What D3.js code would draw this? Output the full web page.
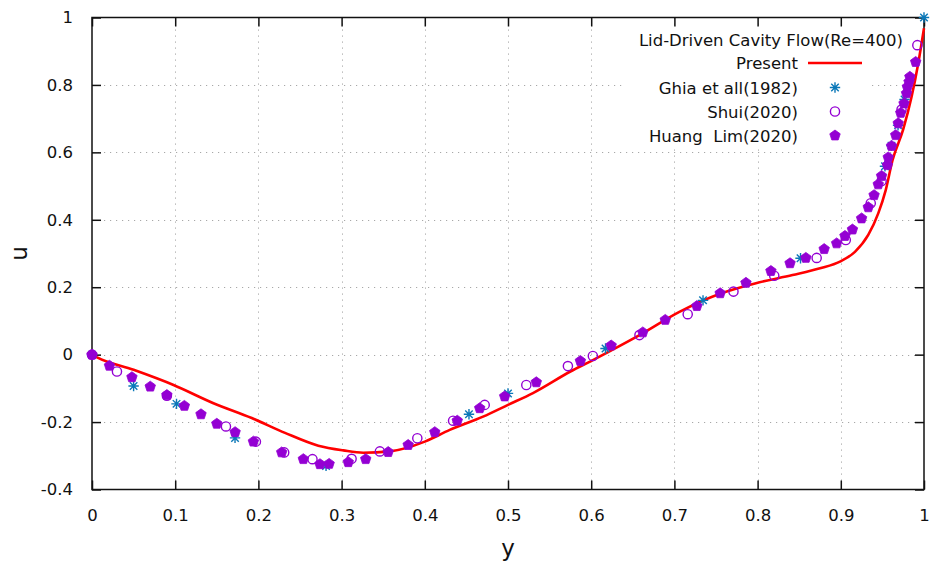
<!DOCTYPE html>
<html>
<head>
<meta charset="utf-8">
<script src="https://cdnjs.cloudflare.com/ajax/libs/d3/7.8.5/d3.min.js"></script>
<style>
  body { margin: 0; background: #fff; }
  text { font-family: "DejaVu Sans", Verdana, sans-serif; fill: #111; white-space: pre; }
</style>
</head>
<body>
<svg id="chart" width="934" height="564"></svg>
<script>
// Present (red line)
var presentY = [0, 0.006, 0.05, 0.098, 0.146, 0.192, 0.232, 0.272, 0.302, 0.326, 0.358, 0.4, 0.43, 0.47, 0.5, 0.53, 0.575, 0.602, 0.658, 0.706, 0.754, 0.798, 0.842, 0.875, 0.899, 0.917, 0.933, 0.945, 0.954, 0.962, 0.975, 0.985, 0.993, 1.0];
var presentU = [0, -0.008, -0.045, -0.09, -0.144, -0.188, -0.232, -0.27, -0.284, -0.291, -0.287, -0.258, -0.223, -0.184, -0.149, -0.114, -0.05, -0.016, 0.058, 0.127, 0.18, 0.212, 0.236, 0.256, 0.276, 0.305, 0.355, 0.419, 0.488, 0.575, 0.668, 0.764, 0.863, 0.968];

// Ghia et all (1982)
var ghiaY = [0, 0.05, 0.1016, 0.1719, 0.2813, 0.4531, 0.5, 0.6172, 0.7344, 0.8516, 0.9531, 0.9609, 0.9688, 0.9766, 1.0];
var ghiaU = [0, -0.093, -0.146, -0.247, -0.33, -0.177, -0.115, 0.018, 0.161, 0.286, 0.559, 0.62, 0.68, 0.757, 1.0];

// Shui (2020)
var shuiY = [0, 0.03, 0.09, 0.161, 0.197, 0.231, 0.265, 0.312, 0.346, 0.391, 0.434, 0.472, 0.522, 0.572, 0.602, 0.658, 0.716, 0.771, 0.82, 0.871, 0.906, 0.936, 0.949, 0.973, 0.992];
var shuiU = [0, -0.05, -0.122, -0.213, -0.258, -0.29, -0.31, -0.309, -0.287, -0.248, -0.196, -0.149, -0.09, -0.034, -0.004, 0.058, 0.12, 0.187, 0.234, 0.287, 0.34, 0.449, 0.515, 0.727, 0.918];

// Huang Lim (2020)
var huangY = [0, 0.021, 0.048, 0.07, 0.09, 0.111, 0.131, 0.15, 0.172, 0.194, 0.228, 0.254, 0.274, 0.285, 0.308, 0.329, 0.356, 0.38, 0.412, 0.439, 0.466, 0.496, 0.534, 0.587, 0.624, 0.662, 0.689, 0.727, 0.755, 0.786, 0.816, 0.839, 0.858, 0.88, 0.895, 0.905, 0.914, 0.925, 0.933, 0.94, 0.945, 0.949, 0.956, 0.957, 0.961, 0.966, 0.969, 0.972, 0.976, 0.979, 0.98, 0.982, 0.983, 0.99];
var huangU = [0, -0.033, -0.067, -0.095, -0.12, -0.152, -0.177, -0.205, -0.23, -0.258, -0.29, -0.31, -0.325, -0.324, -0.319, -0.31, -0.289, -0.268, -0.23, -0.196, -0.159, -0.124, -0.082, -0.019, 0.027, 0.066, 0.103, 0.144, 0.182, 0.213, 0.248, 0.271, 0.287, 0.313, 0.33, 0.352, 0.371, 0.404, 0.437, 0.473, 0.505, 0.53, 0.562, 0.585, 0.619, 0.651, 0.686, 0.717, 0.745, 0.775, 0.794, 0.809, 0.824, 0.868];

var xTicks = [0, 0.1, 0.2, 0.3, 0.4, 0.5, 0.6, 0.7, 0.8, 0.9, 1];
var yTicks = [-0.4, -0.2, 0, 0.2, 0.4, 0.6, 0.8, 1];

var legendTitle = "Lid-Driven Cavity Flow(Re=400)";
var legendNames = ["Present", "Ghia et all(1982)", "Shui(2020)", "Huang  Lim(2020)"];

var RED = "#ff0000", BLUE = "#0b78b8", PURPLE = "#9400d3";

var svg = d3.select("#chart"),
  M = { left: 92, right: 924, top: 17.5, bottom: 489.5 };

var x = d3.scaleLinear().domain([0, 1]).range([M.left, M.right]);
var y = d3.scaleLinear().domain([-0.4, 1]).range([M.bottom, M.top]);

function zip(a, b) { return a.map(function (v, i) { return [v, b[i]]; }); }
function plain(d) { return String(d); }   // hyphen minus like gnuplot

// grid
var grid = svg.append("g").attr("stroke", "#a8a8a8").attr("stroke-width", 1).attr("stroke-dasharray", "1.2,4.8");
grid.selectAll(".gx").data(xTicks.slice(1, -1)).enter().append("line")
  .attr("x1", function (d) { return Math.round(x(d)) + 0.5; })
  .attr("x2", function (d) { return Math.round(x(d)) + 0.5; })
  .attr("y1", M.top).attr("y2", M.bottom);
grid.selectAll(".gy").data(yTicks.slice(1, -1)).enter().append("line")
  .attr("y1", function (d) { return Math.round(y(d)) + 0.5; })
  .attr("y2", function (d) { return Math.round(y(d)) + 0.5; })
  .attr("x1", M.left).attr("x2", M.right);

// axes with inward ticks (mirrored)
function styleAxis(g) {
  g.select(".domain").remove();
  g.selectAll(".tick line").attr("stroke", "#111").attr("stroke-width", 1.5);
  g.selectAll("text").style("font-size", "16.5px").attr("fill", "#111");
}
svg.append("g").attr("transform", "translate(0," + M.bottom + ")")
  .call(d3.axisBottom(x).tickValues(xTicks).tickSize(-9).tickPadding(20).tickFormat(plain))
  .call(styleAxis);
svg.append("g").attr("transform", "translate(0," + M.top + ")")
  .call(d3.axisTop(x).tickValues(xTicks).tickSize(-9).tickFormat(""))
  .call(styleAxis);
svg.append("g").attr("transform", "translate(" + M.left + ",0)")
  .call(d3.axisLeft(y).tickValues(yTicks).tickSize(-9).tickPadding(19).tickFormat(plain))
  .call(styleAxis);
svg.append("g").attr("transform", "translate(" + M.right + ",0)")
  .call(d3.axisRight(y).tickValues(yTicks).tickSize(-9).tickFormat(""))
  .call(styleAxis);

svg.append("rect")
  .attr("x", M.left).attr("y", M.top)
  .attr("width", M.right - M.left).attr("height", M.bottom - M.top)
  .attr("fill", "none").attr("stroke", "#111").attr("stroke-width", 1.5);

// axis titles
svg.append("text").attr("x", x(0.5)).attr("y", 556).attr("text-anchor", "middle")
  .style("font-size", "23px").text("y");
svg.append("text").attr("transform", "translate(27," + y(0.3) + ") rotate(-90)")
  .attr("text-anchor", "middle").style("font-size", "23px").text("u");

// marker shapes
var pentagon = {
  draw: function (ctx, size) {
    var r = Math.sqrt(size / 2.38);
    for (var i = 0; i < 5; i++) {
      var a = -Math.PI / 2 + i * 2 * Math.PI / 5;
      if (i === 0) ctx.moveTo(r * Math.cos(a), r * Math.sin(a));
      else ctx.lineTo(r * Math.cos(a), r * Math.sin(a));
    }
    ctx.closePath();
  }
};
function starPath(s) {
  var d = s * 0.72;
  return "M0," + (-s) + "V" + s + "M" + (-s) + ",0H" + s +
    "M" + (-d) + "," + (-d) + "L" + d + "," + d + "M" + (-d) + "," + d + "L" + d + "," + (-d);
}

var plot = svg.append("g");

// Present
plot.append("path")
  .attr("d", d3.line().x(function (d) { return x(d[0]); }).y(function (d) { return y(d[1]); })
    .curve(d3.curveMonotoneX)(zip(presentY, presentU)))
  .attr("fill", "none").attr("stroke", RED).attr("stroke-width", 2.6);

// Ghia
plot.selectAll(".ghia").data(zip(ghiaY, ghiaU)).enter().append("path")
  .attr("transform", function (d) { return "translate(" + x(d[0]) + "," + y(d[1]) + ")"; })
  .attr("d", starPath(5.2)).attr("stroke", BLUE).attr("stroke-width", 1.4).attr("fill", "none");

// Shui
plot.selectAll(".shui").data(zip(shuiY, shuiU)).enter().append("circle")
  .attr("cx", function (d) { return x(d[0]); }).attr("cy", function (d) { return y(d[1]); })
  .attr("r", 4.6).attr("fill", "none").attr("stroke", PURPLE).attr("stroke-width", 1.4);

// Huang Lim
var pent = d3.symbol().type(pentagon).size(72);
plot.selectAll(".huang").data(zip(huangY, huangU)).enter().append("path")
  .attr("transform", function (d) { return "translate(" + x(d[0]) + "," + y(d[1]) + ")"; })
  .attr("d", pent()).attr("fill", PURPLE).attr("stroke", PURPLE).attr("stroke-width", 0.8)
  .attr("stroke-linejoin", "round");

// legend
var lg = svg.append("g");
lg.append("rect").attr("x", 624).attr("y", 27).attr("width", 246).attr("height", 120).attr("fill", "#fff");
lg.append("text").attr("x", 903).attr("y", 46).attr("text-anchor", "end").style("font-size", "16.5px").text(legendTitle);
var rowY = [63, 87.5, 111.5, 135.5];
legendNames.forEach(function (name, i) {
  lg.append("text").attr("x", 798).attr("y", rowY[i] + 6).attr("text-anchor", "end")
    .attr("xml:space", "preserve").style("font-size", "16.5px").text(name);
});
lg.append("line").attr("x1", 808).attr("x2", 862).attr("y1", rowY[0]).attr("y2", rowY[0])
  .attr("stroke", RED).attr("stroke-width", 2.6);
lg.append("path").attr("transform", "translate(835," + rowY[1] + ")").attr("d", starPath(5.2))
  .attr("stroke", BLUE).attr("stroke-width", 1.4).attr("fill", "none");
lg.append("circle").attr("cx", 835).attr("cy", rowY[2]).attr("r", 4.6)
  .attr("fill", "none").attr("stroke", PURPLE).attr("stroke-width", 1.4);
lg.append("path").attr("transform", "translate(835," + rowY[3] + ")").attr("d", pent())
  .attr("fill", PURPLE).attr("stroke", PURPLE).attr("stroke-width", 0.8).attr("stroke-linejoin", "round");
</script>
</body>
</html>
